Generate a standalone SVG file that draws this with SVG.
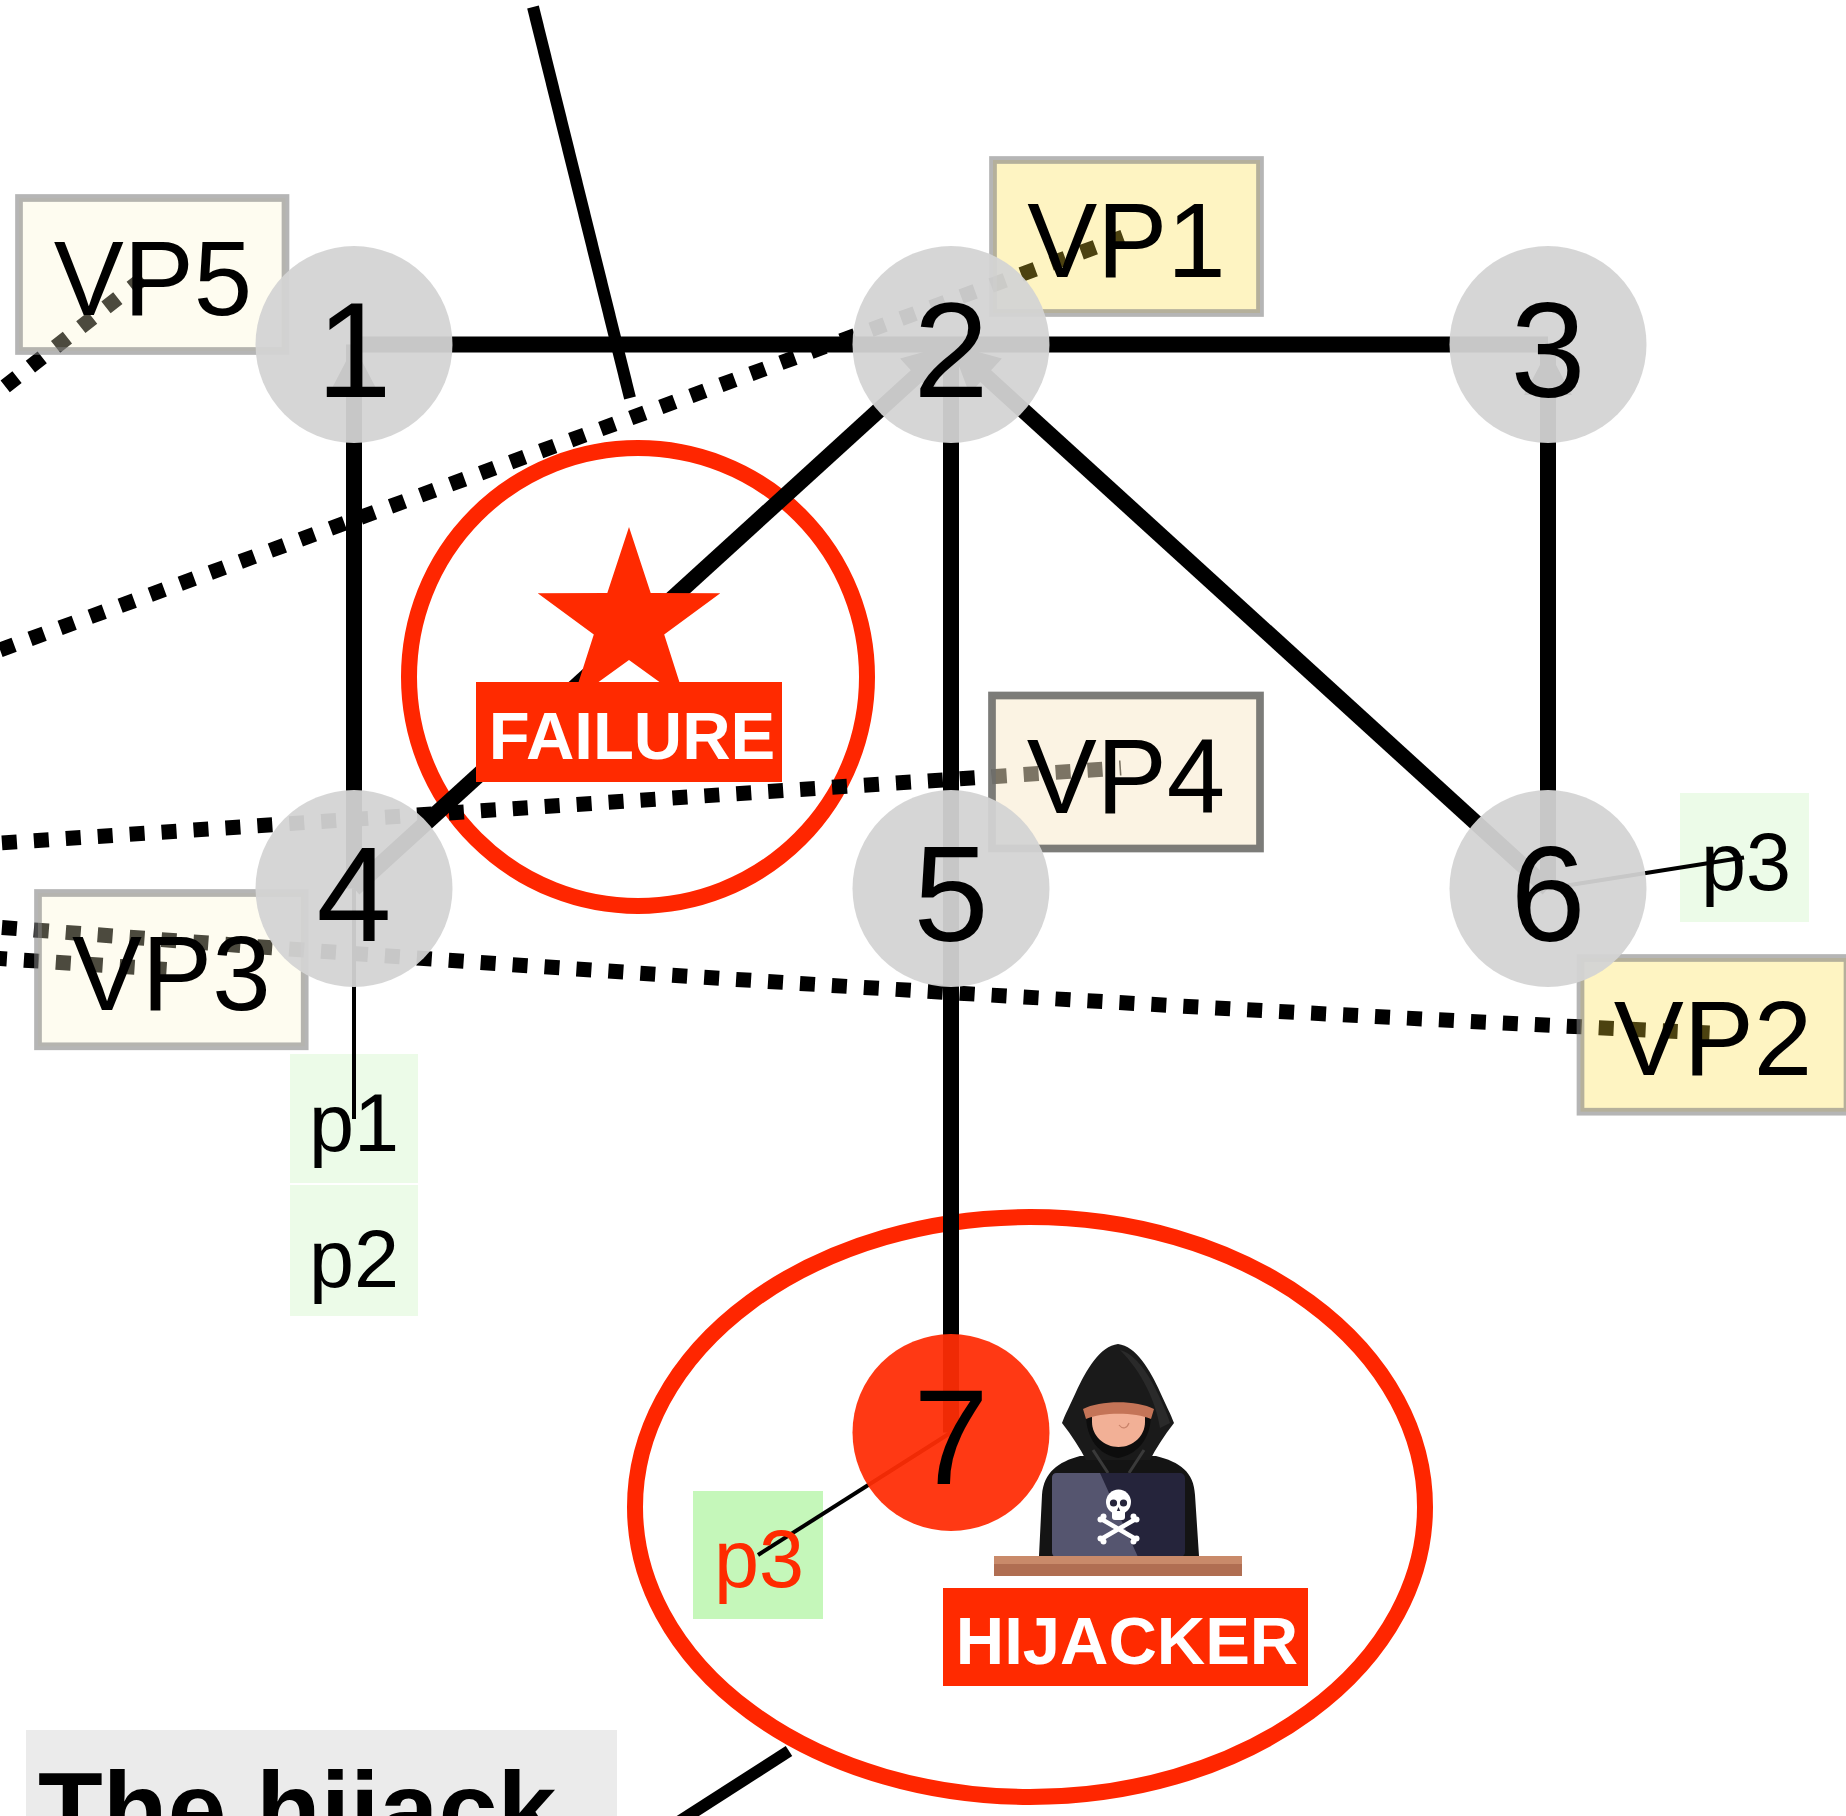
<svg xmlns="http://www.w3.org/2000/svg" width="1846" height="1816" viewBox="0 0 1846 1816">
  <style>
    text { font-family: "Liberation Sans", Arial, Helvetica, sans-serif; }
    .edge { stroke: #000; stroke-width: 16; fill: none; }
    .arrow { fill: #000; }
    .route { stroke: #000; stroke-width: 15; stroke-dasharray: 15 17; fill: none; }
    .leader { stroke: #000; stroke-width: 12; }
    .pref { stroke: #000; stroke-width: 4; fill: none; }
    .node circle { fill: #d3d3d3; fill-opacity: 0.94; }
    .node.hot circle { fill: #ff2d05; }
    .node text { font-size: 135px; text-anchor: middle; fill: #000; }
    .vp rect { stroke: #808080; stroke-opacity: 0.58; stroke-width: 7.7; fill-opacity: 0.3; }
    .vp.pale rect { fill: rgb(252,245,204); }
    .vp.gold rect { fill: rgb(252,218,54); }
    .vp.sand rect { fill: rgb(248,232,200); fill-opacity: 0.5; stroke: #6e6e6a; stroke-opacity: 0.9; }
    .vp text { font-size: 105px; text-anchor: middle; fill: #000; }
    .pl rect { fill: #ecfbe8; }
    .pl text { font-size: 81px; text-anchor: middle; fill: #000; }
    .pl.bad rect { fill: #c5f7ba; }
    .pl.bad text { fill: #ff2a00; }
    .ring { fill: none; stroke: #ff2600; stroke-width: 16; }
    .tag rect { fill: #ff2a00; }
    .tag text { font-size: 67px; font-weight: bold; fill: #fff; text-anchor: middle; }
  </style>

  <rect x="0" y="0" width="1846" height="1816" fill="#fff"/>

  <!-- highlight rings -->
  <g id="highlights">
    <circle class="ring" cx="638" cy="677" r="229"/>
    <ellipse class="ring" cx="1030" cy="1507" rx="395" ry="290"/>
  </g>

  <!-- callout leaders and caption -->
  <g id="callouts">
    <line class="leader" x1="533" y1="7" x2="630" y2="398"/>
    <line class="leader" x1="789" y1="1751" x2="666" y2="1830"/>
    <g id="caption">
      <rect x="26" y="1730" width="591" height="100" fill="#ebebeb"/>
      <text x="38" y="1846" font-size="106" font-weight="bold" fill="#000">The hijack</text>
    </g>
  </g>

  <!-- AS links -->
  <g id="connectors">
    <g id="links">
      <line class="edge" x1="354" y1="344.5" x2="951" y2="344.5"/>
      <line class="edge" x1="951" y1="344.5" x2="1548" y2="344.5"/>
      <line class="edge" x1="354" y1="888.5" x2="354" y2="344.5"/>
      <line class="edge" x1="354" y1="888.5" x2="951" y2="344.5"/>
      <line class="edge" x1="951" y1="888.5" x2="951" y2="344.5"/>
      <line class="edge" x1="1548" y1="888.5" x2="951" y2="344.5"/>
      <line class="edge" x1="1548" y1="888.5" x2="1548" y2="344.5"/>
      <line class="edge" x1="951" y1="1432.5" x2="951" y2="888.5"/>
      <polygon class="arrow" points="354,346 330,392 378,392"/>
      <polygon class="arrow" points="1548,350 1524,395 1572,395"/>
      <polygon class="arrow" points="951,344.5 932.5,393.9 900.1,358.5"/>
      <polygon class="arrow" points="951,344.5 1001.9,358.4 969.5,393.8"/>
    </g>

    <!-- vantage point routes -->
    <g id="routes">
      <path class="route" d="M-30,661 L1123,237"/>
      <path class="route" d="M-20,406 L150,273"/>
      <path class="route" d="M-30,845 L1121,768"/>
      <path class="route" d="M-30,925 Q841,993 1712,1033"/>
      <path class="route" d="M-40,956 L171,969.7"/>
    </g>
  </g>

  <!-- prefix labels -->
  <g id="prefix-p1" class="pl">
    <rect x="290" y="1054" width="128" height="129"/>
  </g>
  <g id="prefix-p2" class="pl">
    <rect x="290" y="1185" width="128" height="131"/>
  </g>
  <g id="prefix-p3-as6" class="pl">
    <rect x="1680" y="793" width="129" height="129"/>
  </g>
  <g id="prefix-p3-as7" class="pl bad">
    <rect x="693" y="1491" width="130" height="128"/>
  </g>
  <g id="prefix-links">
    <line class="pref" x1="354" y1="888.5" x2="354" y2="1119"/>
    <line class="pref" x1="1548" y1="888.5" x2="1744" y2="857.5"/>
    <line class="pref" x1="951" y1="1432.5" x2="758" y2="1555"/>
  </g>
  <g id="prefix-text">
    <g class="pl"><text x="354" y="1151">p1</text></g>
    <g class="pl"><text x="354" y="1287">p2</text></g>
    <g class="pl"><text x="1746" y="890">p3</text></g>
    <g class="pl bad"><text x="759" y="1587">p3</text></g>
  </g>

  <!-- vantage points -->
  <g id="vp5" class="vp pale">
    <rect x="19" y="198" width="266.5" height="153"/>
    <text x="153" y="315">VP5</text>
  </g>
  <g id="vp1" class="vp gold">
    <rect x="993" y="160" width="267" height="153"/>
    <text x="1126.5" y="277">VP1</text>
  </g>
  <g id="vp4" class="vp sand">
    <rect x="992" y="695.5" width="268" height="153"/>
    <text x="1126" y="812.5">VP4</text>
  </g>
  <g id="vp3" class="vp pale">
    <rect x="38" y="893" width="266.7" height="153.3"/>
    <text x="171.3" y="1010">VP3</text>
  </g>
  <g id="vp2" class="vp gold">
    <rect x="1580.5" y="958" width="267" height="153.7"/>
    <text x="1713" y="1075">VP2</text>
  </g>

  <!-- AS nodes -->
  <g id="node-1" class="node"><circle cx="354" cy="344.5" r="98.5"/><text x="354" y="396.5">1</text></g>
  <g id="node-2" class="node"><circle cx="951" cy="344.5" r="98.5"/><text x="951" y="396.5">2</text></g>
  <g id="node-3" class="node"><circle cx="1548" cy="344.5" r="98.5"/><text x="1548" y="396.5">3</text></g>
  <g id="node-4" class="node"><circle cx="354" cy="888.5" r="98.5"/><text x="354" y="940.5">4</text></g>
  <g id="node-5" class="node"><circle cx="951" cy="888.5" r="98.5"/><text x="951" y="940.5">5</text></g>
  <g id="node-6" class="node"><circle cx="1548" cy="888.5" r="98.5"/><text x="1548" y="940.5">6</text></g>
  <g id="node-7" class="node hot"><circle cx="951" cy="1432.5" r="98.5"/><text x="951" y="1484">7</text></g>

  <!-- link failure marker -->
  <g id="failure">
    <polygon fill="#ff2a00" points="629,527 650.7,593.1 720.3,593.3 664.2,634.4 685.4,700.7 629,660 572.6,700.7 593.8,634.4 537.7,593.3 607.3,593.1"/>
    <g class="tag">
      <rect x="476" y="682" width="306" height="100"/>
      <text x="632" y="759">FAILURE</text>
    </g>
  </g>

  <!-- hijacker figure -->
  <g id="hijacker">
    <path fill="#141414" d="M1039,1556 L1042,1495 C1044,1472 1058,1462 1080,1456 L1156,1456 C1180,1462 1194,1472 1195,1495 L1199,1556 Z"/>
    <path fill="#1a1a1a" d="M1118,1344 C1100,1346 1086,1370 1076,1392 C1070,1405 1065,1415 1062,1423 C1072,1436 1080,1448 1086,1460 L1150,1460 C1156,1448 1164,1436 1174,1423 C1171,1415 1166,1405 1160,1392 C1150,1370 1136,1346 1118,1344 Z"/>
    <path fill="#2a2a2a" d="M1120,1350 C1136,1354 1150,1376 1159,1396 C1164,1407 1168,1416 1170,1423 L1160,1428 C1156,1402 1142,1372 1120,1350 Z"/>
    <path fill="#0d0d0d" d="M1086,1414 C1086,1440 1100,1455 1118,1458 C1136,1455 1151,1440 1151,1414 Z"/>
    <path fill="#f2b096" d="M1092,1410 L1145,1410 L1145,1422 C1145,1436 1133,1447 1118.5,1447 C1104,1447 1092,1436 1092,1422 Z"/>
    <path fill="#c47457" d="M1083,1409 C1100,1400 1137,1400 1154,1409 L1151,1419 C1135,1412 1102,1412 1086,1419 Z"/>
    <path fill="none" stroke="#c9836a" stroke-width="1.2" d="M1119,1425 C1123,1430 1127,1428 1129,1423"/>
    <path fill="none" stroke="#3a3a3a" stroke-width="3" d="M1093,1450 L1108,1473 M1144,1450 L1129,1473"/>
    <rect x="1052" y="1473" width="133" height="84" rx="5" fill="#25243b"/>
    <path fill="#55556f" d="M1057,1473 L1100,1473 L1138,1557 L1057,1557 Q1052,1557 1052,1552 L1052,1478 Q1052,1473 1057,1473 Z"/>
    <g id="skull">
      <circle cx="1118.5" cy="1502" r="12.5" fill="#fff"/>
      <rect x="1112" y="1508" width="13" height="12" rx="3" fill="#fff"/>
      <circle cx="1113.5" cy="1503" r="3.6" fill="#25243b"/>
      <circle cx="1123.5" cy="1503" r="3.6" fill="#25243b"/>
      <polygon points="1118.5,1507 1116.8,1511 1120.2,1511" fill="#25243b"/>
      <path d="M1103,1520 L1134,1538 M1134,1520 L1103,1538" stroke="#fff" stroke-width="4.5" stroke-linecap="round"/>
      <g fill="#fff">
        <circle cx="1100.5" cy="1519.5" r="3"/><circle cx="1103.5" cy="1516.5" r="3"/>
        <circle cx="1136.5" cy="1519.5" r="3"/><circle cx="1133.5" cy="1516.5" r="3"/>
        <circle cx="1100.5" cy="1538.5" r="3"/><circle cx="1103.5" cy="1541.5" r="3"/>
        <circle cx="1136.5" cy="1538.5" r="3"/><circle cx="1133.5" cy="1541.5" r="3"/>
      </g>
    </g>
    <rect x="994" y="1556" width="248" height="20" fill="#b06e52"/>
    <rect x="994" y="1556" width="248" height="8" fill="#c98a6a"/>
    <g class="tag">
      <rect x="943" y="1588" width="365" height="98"/>
      <text x="1127" y="1664">HIJACKER</text>
    </g>
  </g>
</svg>
